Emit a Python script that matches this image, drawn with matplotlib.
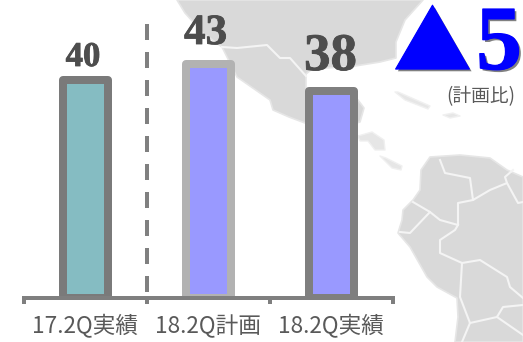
import matplotlib

matplotlib.use("Agg")
import matplotlib.pyplot as plt
import matplotlib.patheffects as pe
from matplotlib.patches import Polygon

W, H = 523, 342
CJK = ["Noto Sans CJK JP", "DejaVu Sans"]

# chart data
categories = ["17.2Q実績", "18.2Q計画", "18.2Q実績"]
values = [40, 43, 38]
bar_fill = ["#85BCC2", "#9999FF", "#9999FF"]
bar_edge = ["#7A7A7A", "#B2B2B2", "#7F7F7F"]
label_sizes = [25, 31, 38]
label_xy = [(83, 66), (205.5, 44), (330.5, 70)]
delta_text = "▲"
delta_value = "5"
delta_note = "(計画比)"

# background map outlines, in pixels
land = [
    [(177, 0), (185, 13), (203, 33), (222, 47), (237, 77), (270, 100), (273, 110),
     (289, 117), (305, 123), (345, 126), (360, 122), (364, 108), (358, 100), (306, 90),
     (306, 74), (312, 69), (355, 66), (380, 62), (396, 58), (396, 42), (405, 20), (423, 0)],
    [(421, 170), (430, 157), (460, 155), (490, 158), (507, 170), (523, 177), (523, 342),
     (455, 342), (458, 317), (457, 298), (437, 287), (427, 277), (410, 247), (398, 233),
     (402, 220), (403, 210), (413, 200), (420, 190)],
]
islands = [
    [(395, 92), (398, 92), (430, 106), (428, 109), (405, 100)],
    [(443, 115), (453, 113), (460, 116), (450, 118)],
    [(358, 136), (372, 132), (384, 140), (385, 150), (375, 150), (368, 141), (360, 141)],
    [(380, 156), (386, 158), (402, 166), (401, 170), (392, 168)],
]
borders = [
    [(222, 47), (237, 48), (267, 45), (280, 58), (290, 58), (306, 76)],
    [(440, 160), (445, 173), (470, 178), (473, 200), (490, 190), (507, 183), (518, 203), (523, 202)],
    [(400, 232), (410, 233), (430, 212), (413, 202)],
    [(430, 212), (440, 220), (458, 225), (458, 203), (473, 200)],
    [(458, 225), (455, 230), (440, 240), (440, 253), (462, 263), (480, 260), (507, 277),
     (510, 287), (523, 298)],
    [(462, 263), (460, 297), (470, 323), (462, 342)],
    [(470, 323), (497, 317), (503, 307), (523, 305)],
    [(497, 317), (523, 335)],
    [(507, 183), (505, 177), (513, 170)],
]

fig = plt.figure(figsize=(W / 100, H / 100), dpi=100)

bg = fig.add_axes([0, 0, 1, 1], zorder=0)
bg.set_xlim(0, W)
bg.set_ylim(H, 0)
bg.axis("off")
for shape in land:
    bg.add_patch(Polygon(shape, closed=True, fc="#D9D9D9", ec="#E6E6E6", lw=1.2, joinstyle="round"))
for shape in islands:
    bg.add_patch(Polygon(shape, closed=True, fc="#E6E6E6", ec="#F0F0F0", lw=1.0, joinstyle="round"))
for line in borders:
    xs, ys = zip(*line)
    bg.plot(xs, ys, color="#F4F4F4", lw=1.5, solid_joinstyle="round")

# bars: baseline sits at y=298 px, 5.44 px per unit
ax = fig.add_axes([23.5 / W, (H - 298) / H, 369 / W, 298 / H], zorder=1)
ax.patch.set_alpha(0)
ax.set_xlim(-0.5, 2.5)
ax.set_ylim(0, 298 / 5.44)
ax.bar(range(len(values)), values, width=45 / 123, color=bar_fill, edgecolor=bar_edge,
       linewidth=5.76, joinstyle="round")
ax.plot([0.5, 0.5], [50.4, 0], color="#808080", lw=2.88, dashes=(4, 3))

for side in ["top", "left", "right"]:
    ax.spines[side].set_visible(False)
ax.spines["bottom"].set_color("#7F7F7F")
ax.spines["bottom"].set_linewidth(2.88)
ax.set_yticks([])
ax.set_xticks(range(len(categories)))
ax.set_xticklabels(categories, family=CJK, fontsize=16.3, color="#595959")
ax.tick_params(axis="x", which="major", length=0, pad=12)
ax.set_xticks([-0.5, 0.5, 1.5, 2.5], minor=True)
ax.tick_params(axis="x", which="minor", length=4.5, width=2.88, color="#7F7F7F")

# texts over everything, placed in pixels
top = fig.add_axes([0, 0, 1, 1], zorder=2)
top.set_xlim(0, W)
top.set_ylim(H, 0)
top.axis("off")
shadow = [pe.SimplePatchShadow(offset=(1.6, -1.6), shadow_rgbFace="#808080", alpha=1),
          pe.Stroke(linewidth=0.8, foreground="#0000FF"), pe.Normal()]
heavy = [pe.Stroke(linewidth=0.6, foreground="#4D4D4D"), pe.Normal()]
for v, size, (x, y) in zip(values, label_sizes, label_xy):
    top.text(x, y, str(v), family="Liberation Serif", fontweight="bold", fontsize=size,
             color="#4D4D4D", ha="center", va="baseline", path_effects=heavy)
top.text(432.5, 70, delta_text, family=CJK, fontsize=56.5, color="#0000FF", ha="center",
         va="baseline", path_effects=shadow)
top.text(499, 69, delta_value, family="Liberation Serif", fontweight="bold", fontsize=66,
         color="#0000FF", ha="center", va="baseline", path_effects=shadow)
top.text(481, 97, delta_note, family=CJK, fontsize=13.5, color="#595959", ha="center", va="center")

fig.savefig("out.png", dpi=100)
plt.close(fig)
